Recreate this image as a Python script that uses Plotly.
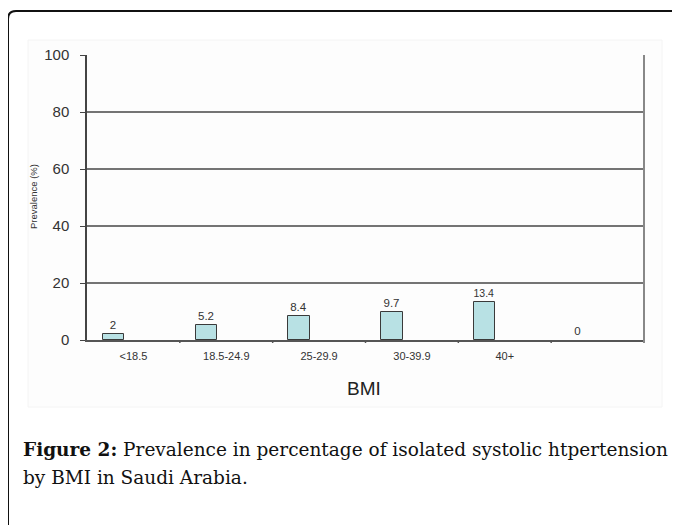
import plotly.graph_objects as go

categories = ["<18.5", "18.5-24.9", "25-29.9", "30-39.9", "40+", " "]
prevalence = [2, 5.2, 8.4, 9.7, 13.4, 0]
y_ticks = [0, 20, 40, 60, 80, 100]
x_title = "BMI"
y_title = "Prevalence (%)"
caption_line1 = "<b>Figure 2:</b> Prevalence in percentage of isolated systolic htpertension"
caption_line2 = "by BMI in Saudi Arabia."

# page is offset by the browser body margin (8px); work in page coordinates
OFF = 8
PW, PH = 680, 525
PL, PR, PT, PB = 87, 644, 55, 340          # plot area in page pixels
W, H = PW - OFF, PH - OFF
pw, ph = PR - PL, PB - PT


def px(x):
    return (x - PL) / pw


def py(y):
    return (PB - y) / ph


fig = go.Figure()
fig.add_trace(go.Bar(
    x=categories, y=prevalence,
    width=0.23, offset=-0.33,
    marker=dict(color="#b8e1e4",
                line=dict(color="#3a3a3a", width=[1 if v > 0 else 0 for v in prevalence])),
    text=[str(v) for v in prevalence], textposition="outside",
    textfont=dict(family="Liberation Sans, Arial", size=11.5, color="#333"),
    cliponaxis=False,
))

shapes = []
shapes.append(dict(type="rect", xref="paper", yref="paper",
                   x0=px(28), x1=px(662), y0=py(407), y1=py(40),
                   line=dict(color="#f4f4f4", width=1), fillcolor="#fdfdfd", layer="below"))
r = 8
path = (f"M {px(8)},{py(530)} L {px(8)},{py(11 + r)} "
        f"Q {px(8)},{py(11)} {px(8 + r)},{py(11)} "
        f"L {px(675)},{py(11)} Q {px(679)},{py(11)} {px(680)},{py(13)}")
shapes.append(dict(type="path", xref="paper", yref="paper", path=path,
                   line=dict(color="#111", width=2)))
shapes.append(dict(type="line", xref="paper", yref="paper", x0=1, x1=1, y0=py(343), y1=1,
                   line=dict(color="#888", width=2)))
for i in range(1, 6):
    xb = px(PL + i * pw / 6)
    shapes.append(dict(type="line", xref="paper", yref="paper", x0=xb, x1=xb,
                       y0=0, y1=py(PB + 3), line=dict(color="#555", width=1.5)))

serif = dict(family="DejaVu Serif, Liberation Serif, serif", size=18.5, color="#111")
annotations = [
    dict(text=caption_line1, xref="paper", yref="paper", x=px(21), y=py(450),
         xanchor="left", yanchor="middle", showarrow=False, font=serif),
    dict(text=caption_line2, xref="paper", yref="paper", x=px(21), y=py(477),
         xanchor="left", yanchor="middle", showarrow=False, font=serif),
    dict(text=y_title, xref="paper", yref="paper", x=px(33), y=py(197),
         xanchor="center", yanchor="middle", showarrow=False, textangle=-90,
         font=dict(family="Liberation Sans, Arial", size=9.5, color="#333")),
    dict(text=x_title, xref="paper", yref="paper", x=px(364), y=py(388),
         xanchor="center", yanchor="middle", showarrow=False,
         font=dict(family="Liberation Sans, Arial", size=19, color="#222")),
]

fig.update_layout(
    width=W, height=H,
    margin=dict(l=PL - OFF, r=PW - PR, t=PT - OFF, b=PH - PB, pad=0),
    paper_bgcolor="white", plot_bgcolor="white",
    showlegend=False,
    shapes=shapes, annotations=annotations,
    bargap=0,
)
fig.update_xaxes(
    type="category", range=[-0.5, 5.5],
    showline=True, linecolor="#555", linewidth=1.5,
    showgrid=False, zeroline=False,
    ticks="", tickfont=dict(family="Liberation Sans, Arial", size=11, color="#333"),
    ticklabelstandoff=5,
)
fig.update_yaxes(
    range=[0, 100], tickvals=y_ticks,
    showline=True, linecolor="#444", linewidth=1.5,
    showgrid=True, gridcolor="#747474", gridwidth=1.5,
    zeroline=False,
    ticks="outside", ticklen=5, tickcolor="#444",
    tickfont=dict(family="Liberation Sans, Arial", size=15, color="#333"),
    ticklabelstandoff=8,
)

fig.write_html("out.html")
